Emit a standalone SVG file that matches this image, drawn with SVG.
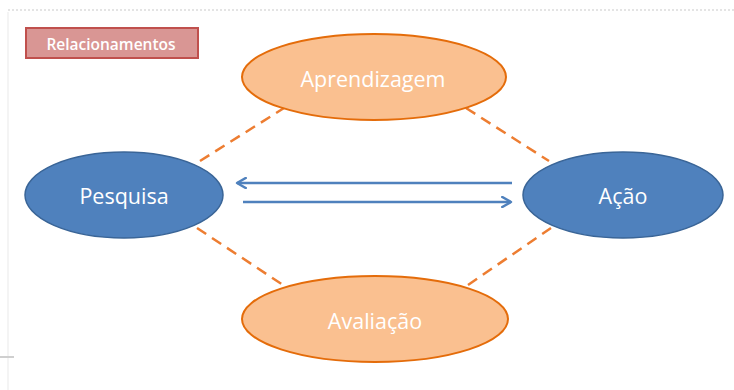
<svg xmlns="http://www.w3.org/2000/svg" width="734" height="390" viewBox="0 0 734 390">
  <defs>
    <marker id="arrow" viewBox="0 0 10 10" refX="8" refY="5" markerWidth="5" markerHeight="5" orient="auto-start-reverse" markerUnits="strokeWidth">
      <path d="M1,1 L8,5 L1,9" fill="none" stroke="#4f81bd" stroke-width="2" stroke-linecap="round" stroke-linejoin="round"/>
    </marker>
    <style>
      .frame { stroke: #e4e4e4; stroke-width: 2; stroke-dasharray: 2 2; fill: none; }
      .blue { fill: #4f81bd; stroke: #3a6597; stroke-width: 1.5; }
      .orange { fill: #fac090; stroke: #e46c0a; stroke-width: 2; }
      .label { font-family: "Open Sans", "Noto Sans", "DejaVu Sans", sans-serif; font-size: 21.5px; fill: #ffffff; text-anchor: middle; dominant-baseline: central; }
      .dash { stroke: #ed7d31; stroke-width: 2.5; stroke-dasharray: 11 7; fill: none; }
      .link { stroke: #4f81bd; stroke-width: 2.5; fill: none; }
    </style>
  </defs>

  <rect width="734" height="390" fill="#ffffff"/>

  <!-- slide frame -->
  <line class="frame" x1="8" y1="10" x2="734" y2="10"/>
  <line x1="8" y1="12" x2="8" y2="390" stroke="#f0f0f0" stroke-width="1.5"/>
  <line x1="0" y1="357" x2="14" y2="357" stroke="#cfcfcf" stroke-width="2"/>

  <!-- title tag -->
  <g id="relacionamentos">
    <rect x="26" y="28" width="172" height="30" fill="#d99694" stroke="#c0504d" stroke-width="2"/>
    <text x="111" y="43.5" font-family="'Open Sans', 'Noto Sans', sans-serif" font-size="15.5" font-weight="600" fill="#ffffff" text-anchor="middle" dominant-baseline="central">Relacionamentos</text>
  </g>

  <!-- connectors -->
  <g id="connectors">
    <line class="dash" x1="200" y1="161" x2="284" y2="108"/>
    <line class="dash" x1="466" y1="108" x2="549" y2="161"/>
    <line class="dash" x1="197" y1="228" x2="283" y2="285"/>
    <line class="dash" x1="468" y1="285" x2="551" y2="228"/>
    <line class="link" x1="512" y1="183" x2="237" y2="183" marker-end="url(#arrow)"/>
    <line class="link" x1="243" y1="202" x2="511" y2="202" marker-end="url(#arrow)"/>
  </g>

  <g id="aprendizagem">
    <ellipse class="orange" cx="374" cy="77" rx="132" ry="43"/>
    <text class="label" x="373" y="78">Aprendizagem</text>
  </g>

  <g id="pesquisa">
    <ellipse class="blue" cx="124" cy="195" rx="99" ry="43"/>
    <text class="label" x="124" y="195">Pesquisa</text>
  </g>

  <g id="acao">
    <ellipse class="blue" cx="623" cy="195" rx="100" ry="43"/>
    <text class="label" x="623" y="195">Ação</text>
  </g>

  <g id="avaliacao">
    <ellipse class="orange" cx="375" cy="319" rx="133" ry="43"/>
    <text class="label" x="375" y="320">Avaliação</text>
  </g>
</svg>
